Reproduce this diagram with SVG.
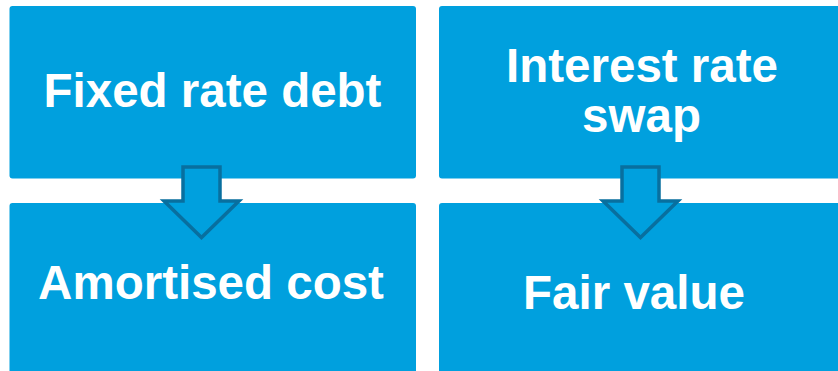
<svg xmlns="http://www.w3.org/2000/svg" width="838" height="371" viewBox="0 0 838 371">
<style>
.box{fill:#00a0de;}
.lbl{font-family:"Liberation Sans",Arial,sans-serif;font-weight:bold;font-size:47.5px;fill:#ffffff;text-anchor:middle;}
.arrow{fill:#00a0de;stroke:#086f9f;stroke-width:3.5;stroke-linejoin:miter;}
</style>
<rect width="838" height="371" fill="#ffffff"/>
<g id="fixed-rate-debt">
<rect class="box" x="9.5" y="6" width="406.5" height="172.5" rx="3"/>
<text class="lbl" x="212.5" y="106.5">Fixed rate debt</text>
</g>
<g id="interest-rate-swap">
<rect class="box" x="439" y="6" width="405" height="172.5" rx="3"/>
<text class="lbl" x="642" y="81.5">Interest rate</text>
<text class="lbl" x="641.5" y="131.5">swap</text>
</g>
<g id="amortised-cost">
<rect class="box" x="9.5" y="203" width="406.5" height="180" rx="3"/>
<text class="lbl" x="211" y="298.5">Amortised cost</text>
</g>
<g id="fair-value">
<rect class="box" x="439" y="203" width="405" height="180" rx="3"/>
<text class="lbl" x="634" y="308.5">Fair value</text>
</g>
<g id="connectors">
<polygon class="arrow" points="183,167 220,167 220,201 239,201 201.5,237.5 164,201 183,201"/>
<polygon class="arrow" points="622,167 659,167 659,201 678,201 640.5,237.5 603,201 622,201"/>
</g>
</svg>
